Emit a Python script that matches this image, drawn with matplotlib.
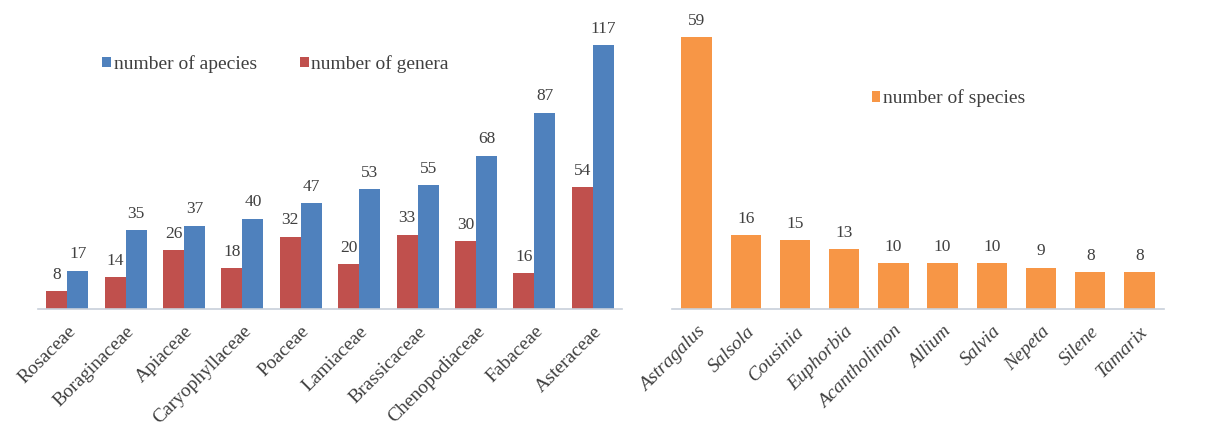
import numpy as np
import matplotlib
matplotlib.use('Agg')
import matplotlib.pyplot as plt

plt.rcParams['font.family'] = ['Liberation Serif', 'DejaVu Serif']

families = ['Rosaceae', 'Boraginaceae', 'Apiaceae', 'Caryophyllaceae', 'Poaceae',
            'Lamiaceae', 'Brassicaceae', 'Chenopodiaceae', 'Fabaceae', 'Asteraceae']
species_per_family = [17, 35, 37, 40, 47, 53, 55, 68, 87, 117]
genera_per_family = [8, 14, 26, 18, 32, 20, 33, 30, 16, 54]

genera = ['Astragalus', 'Salsola', 'Cousinia', 'Euphorbia', 'Acantholimon',
          'Allium', 'Salvia', 'Nepeta', 'Silene', 'Tamarix']
species_per_genus = [59, 16, 15, 13, 10, 10, 10, 9, 8, 8]

blue = '#4F81BD'
red = '#C0504D'
orange = '#F79646'
txt = '#404040'

W, H = 1217, 428
fig = plt.figure(figsize=(W / 100, H / 100), dpi=100)

base = 309
top = 20


def style(ax):
    for s in ['top', 'right', 'left']:
        ax.spines[s].set_visible(False)
    ax.spines['bottom'].set_color('#C8D0DA')
    ax.spines['bottom'].set_linewidth(1.2)
    ax.set_yticks([])
    ax.tick_params(axis='x', length=0, pad=10)


# left chart
ax1 = fig.add_axes([38 / W, (H - base) / H, 584 / W, (base - top) / H])
x = np.arange(len(families))
bw = 0.36
b_gen = ax1.bar(x - bw / 2, genera_per_family, bw, color=red, label='number of genera')
b_sp = ax1.bar(x + bw / 2, species_per_family, bw, color=blue, label='number of apecies')
ax1.bar_label(b_gen, padding=6, fontsize=12.5, color=txt)
ax1.bar_label(b_sp, padding=6, fontsize=12.5, color=txt)
ax1.set_xlim(-0.5, len(families) - 0.5)
ax1.set_ylim(0, (base - top) / 2.256)
style(ax1)
ax1.set_xticks(x)
ax1.set_xticklabels(families, rotation=45, ha='right', rotation_mode='anchor',
                    fontsize=14, color=txt)
ax1.legend(handles=[b_sp, b_gen], ncol=2, frameon=False, fontsize=14,
           handlelength=0.45, handleheight=0.45, handletextpad=0.15, columnspacing=2.2,
           loc='upper left', bbox_to_anchor=(0.08, 0.94), labelcolor=txt)

# right chart
ax2 = fig.add_axes([672 / W, (H - base) / H, 492 / W, (base - top) / H])
x2 = np.arange(len(genera))
b_or = ax2.bar(x2, species_per_genus, 0.62, color=orange, label='number of species')
ax2.bar_label(b_or, padding=6, fontsize=12.5, color=txt)
ax2.set_xlim(-0.5, len(genera) - 0.5)
ax2.set_ylim(0, (base - top) / 4.61)
style(ax2)
ax2.set_xticks(x2)
ax2.set_xticklabels(genera, rotation=45, ha='right', rotation_mode='anchor',
                    fontsize=14, color=txt, style='italic')
ax2.legend(handles=[b_or], frameon=False, fontsize=14,
           handlelength=0.45, handleheight=0.45, handletextpad=0.15,
           loc='upper left', bbox_to_anchor=(0.37, 0.82), labelcolor=txt)

fig.savefig('out.png', dpi=100)
